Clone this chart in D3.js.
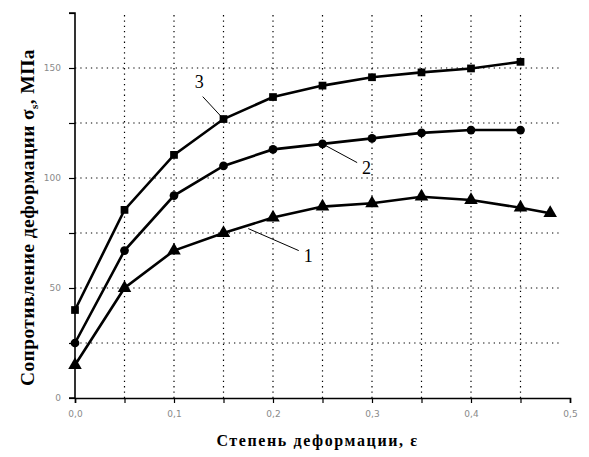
<!DOCTYPE html>
<html>
<head>
<meta charset="utf-8">
<script src="https://cdn.jsdelivr.net/npm/d3@7"></script>
<style>
  body { margin: 0; background: #fff; }
  svg { display: block; }
</style>
</head>
<body>
<svg id="chart" width="589" height="457"></svg>
<script>
// data
const strain = [0, 0.05, 0.1, 0.15, 0.2, 0.25, 0.3, 0.35, 0.4, 0.45];
const strain1 = [0, 0.05, 0.1, 0.15, 0.2, 0.25, 0.3, 0.35, 0.4, 0.45, 0.48];
const series1 = [15, 50, 67, 75, 82, 87, 88.5, 91.5, 90, 86.5, 84];
const series2 = [25, 67, 92, 105.5, 113, 115.5, 118, 120.5, 121.8, 121.8];
const series3 = [40, 85.5, 110.5, 126.8, 136.8, 142, 145.8, 148, 149.8, 152.8];
const xTicks = [0, 0.1, 0.2, 0.3, 0.4, 0.5];
const yTicks = [0, 50, 100, 150];
const xGrid = [0.05, 0.1, 0.15, 0.2, 0.25, 0.3, 0.35, 0.4, 0.45];
const yGrid = [25, 50, 75, 100, 125, 150];

const margin = { top: 13, right: 19, bottom: 59, left: 75 };
const width = 589 - margin.left - margin.right,
    height = 457 - margin.top - margin.bottom;

const x = d3.scaleLinear().domain([0, 0.5]).range([0, width]);
const y = d3.scaleLinear().domain([0, 175]).range([height, 0]);

const svg = d3.select("#chart");
const g = svg.append("g")
    .attr("transform", `translate(${margin.left},${margin.top})`);

// dotted grid
g.append("g")
    .attr("stroke", "#000")
    .attr("stroke-width", 1.2)
    .attr("stroke-dasharray", "1.3,4")
    .selectAll("line")
    .data(yGrid)
    .join("line")
    .attr("x1", 0)
    .attr("x2", x(0.49))
    .attr("y1", d => y(d))
    .attr("y2", d => y(d));

g.append("g")
    .attr("stroke", "#000")
    .attr("stroke-width", 1.2)
    .attr("stroke-dasharray", "1.3,4")
    .selectAll("line")
    .data(xGrid)
    .join("line")
    .attr("x1", d => x(d))
    .attr("x2", d => x(d))
    .attr("y1", height)
    .attr("y2", 0);

// axes
const xAxis = g.append("g")
    .attr("transform", `translate(0,${height})`)
    .call(d3.axisBottom(x).tickValues(d3.range(0, 0.501, 0.05)).tickSize(5).tickFormat(d => {
        const v = Math.round(d * 100) / 100;
        return xTicks.some(t => Math.abs(t - v) < 1e-9) ? d3.format(".1f")(v).replace(".", ",") : "";
    }));

const yAxis = g.append("g")
    .call(d3.axisLeft(y).tickValues(d3.range(0, 176, 25)).tickSize(6).tickFormat(d =>
        yTicks.includes(d) ? d : ""));

[xAxis, yAxis].forEach(a => {
    a.select(".domain").attr("stroke", "#000").attr("stroke-width", 1.6);
    a.selectAll(".tick line").attr("stroke", "#000").attr("stroke-width", 1.2);
    a.selectAll(".tick text")
        .attr("fill", "#8a8a8a")
        .style("font", "9px 'DejaVu Sans', sans-serif");
});
xAxis.selectAll(".tick text").attr("dy", "1.2em");
yAxis.selectAll(".tick text").attr("x", -14);
yAxis.select(".domain").attr("d", `M-6,${y(175)}H0V${height}H-6`);

// series
const line = d3.line().x(d => x(d[0])).y(d => y(d[1]));
const sets = [
    { xs: strain1, ys: series1, shape: d3.symbolTriangle, size: 80 },
    { xs: strain, ys: series2, shape: d3.symbolCircle, size: 60 },
    { xs: strain, ys: series3, shape: d3.symbolSquare, size: 60 }
];

sets.forEach(s => {
    const pts = s.xs.map((v, i) => [v, s.ys[i]]);
    g.append("path")
        .datum(pts)
        .attr("fill", "none")
        .attr("stroke", "#000")
        .attr("stroke-width", 2.6)
        .attr("d", line);
    g.append("g")
        .selectAll("path")
        .data(pts)
        .join("path")
        .attr("transform", d => `translate(${x(d[0])},${y(d[1])})`)
        .attr("d", d3.symbol().type(s.shape).size(s.size))
        .attr("fill", "#000");
});

// labels with leader lines
const notes = [
    { name: "3", px: 0.15, py: series3[3], lx: 0.129, ly: 137, tx: 0.121, ty: 141 },
    { name: "2", px: 0.25, py: series2[5], lx: 0.285, ly: 107, tx: 0.29, ty: 102 },
    { name: "1", px: 0.175, py: 77, lx: 0.226, ly: 67, tx: 0.231, ty: 62 }
];

const ann = g.append("g");
ann.selectAll("line")
    .data(notes)
    .join("line")
    .attr("x1", d => x(d.px))
    .attr("y1", d => y(d.py))
    .attr("x2", d => x(d.lx))
    .attr("y2", d => y(d.ly))
    .attr("stroke", "#000")
    .attr("stroke-width", 1);
ann.selectAll("text")
    .data(notes)
    .join("text")
    .attr("x", d => x(d.tx))
    .attr("y", d => y(d.ty))
    .attr("text-anchor", "start")
    .style("font", "18px 'Liberation Serif', 'DejaVu Serif', serif")
    .text(d => d.name);

// titles
svg.append("text")
    .attr("x", margin.left + x(0.245))
    .attr("y", 446)
    .attr("text-anchor", "middle")
    .attr("letter-spacing", "1.6px")
    .style("font", "bold 16px 'Liberation Serif', serif")
    .text("Степень деформации, ε");

const yt = svg.append("text")
    .attr("transform", `translate(34,${margin.top + y(82)}) rotate(-90)`)
    .attr("text-anchor", "middle")
    .attr("letter-spacing", "0.4px")
    .style("font", "bold 19.5px 'Liberation Serif', serif");
yt.append("tspan").text("Сопротивление деформации σ");
yt.append("tspan").attr("dy", 4).style("font-size", "11px").text("s");
yt.append("tspan").attr("dy", -4).text(", МПа");
</script>
</body>
</html>
